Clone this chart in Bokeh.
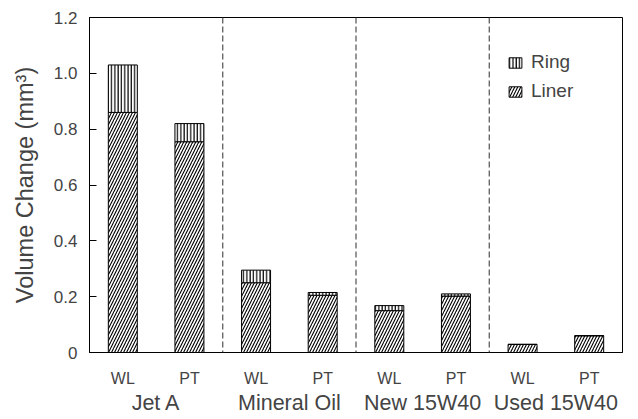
import numpy as np
from bokeh.plotting import figure
from bokeh.models import (ColumnDataSource, LinearAxis, FixedTicker, Span, Range1d,
                          Legend, LegendItem)
from bokeh.embed import file_html
from bokeh.resources import INLINE

groups = ["Jet A", "Mineral Oil", "New 15W40", "Used 15W40"]
methods = ["WL", "PT", "WL", "PT", "WL", "PT", "WL", "PT"]
liner = [0.86, 0.755, 0.25, 0.205, 0.15, 0.202, 0.029, 0.06]
ring = [0.17, 0.065, 0.045, 0.01, 0.018, 0.008, 0.0, 0.0]
y_ticks = [0, 0.2, 0.4, 0.6, 0.8, 1.0, 1.2]
y_tick_labels = ["0", "0.2", "0.4", "0.6", "0.8", "1.0", "1.2"]

FONT = "Liberation Sans"

xpos = np.arange(len(methods)) + 0.5
liner_a = np.array(liner)
total = liner_a + np.array(ring)

src = ColumnDataSource(dict(x=xpos, liner=liner_a, total=total))

p = figure(width=638, height=419, output_backend="svg", toolbar_location=None,
           x_range=Range1d(0, 8), y_range=Range1d(0, 1.2),
           min_border_left=89, min_border_right=16, min_border_top=17, min_border_bottom=67)
p.xaxis.visible = False
p.yaxis.visible = False
p.grid.visible = False
p.outline_line_color = "black"
p.outline_line_width = 1

BW = 0.435
r_liner = p.vbar(x="x", top="liner", bottom=0, width=BW, source=src,
                 fill_color="white", line_color="black", line_width=1,
                 hatch_pattern="/", hatch_color="black", hatch_scale=6, hatch_weight=1.1)
r_ring = p.vbar(x="x", top="total", bottom="liner", width=BW, source=src,
                fill_color="white", line_color="black", line_width=1,
                hatch_pattern="|", hatch_color="black", hatch_scale=3.3, hatch_weight=1.2)

for xs in [2, 4, 6]:
    p.add_layout(Span(location=xs, dimension="height", line_color="#505050",
                      line_width=1.2, line_dash="6 3"))

# y axis
yax = LinearAxis(ticker=FixedTicker(ticks=y_ticks),
                 major_label_overrides={t: l for t, l in zip(y_ticks, y_tick_labels)},
                 axis_label="Volume Change (mm³)")
yax.major_tick_in = 7
yax.major_tick_out = 0
yax.minor_tick_in = 0
yax.minor_tick_out = 0
yax.major_label_standoff = 12
yax.major_label_text_font = FONT
yax.major_label_text_font_size = "17px"
yax.axis_label_text_font = FONT
yax.axis_label_text_font_size = "23.5px"
yax.axis_label_text_font_style = "normal"
yax.axis_label_standoff = 13
yax.axis_line_color = "black"
yax.major_tick_line_color = "black"
p.add_layout(yax, "left")

# x axis with method labels
xax = LinearAxis(ticker=FixedTicker(ticks=list(xpos)),
                 major_label_overrides={float(x): m for x, m in zip(xpos, methods)})
xax.major_tick_in = 0
xax.major_tick_out = 0
xax.minor_tick_in = 0
xax.minor_tick_out = 0
xax.major_label_standoff = 17
xax.major_label_text_font = FONT
xax.major_label_text_font_size = "16px"
xax.axis_line_color = "black"
p.add_layout(xax, "below")

# group axis
gpos = [1.0, 3.0, 5.0, 7.0]
gax = LinearAxis(ticker=FixedTicker(ticks=gpos),
                 major_label_overrides={g: n for g, n in zip(gpos, groups)})
gax.major_tick_in = 0
gax.major_tick_out = 0
gax.minor_tick_in = 0
gax.minor_tick_out = 0
gax.axis_line_color = None
gax.major_label_standoff = 1
gax.major_label_text_font = FONT
gax.major_label_text_font_size = "21.5px"
p.add_layout(gax, "below")

legend = Legend(items=[LegendItem(label="Ring", renderers=[r_ring]),
                       LegendItem(label="Liner", renderers=[r_liner])],
                location=(418, 250))
legend.border_line_color = None
legend.background_fill_alpha = 0
legend.label_text_font = FONT
legend.label_text_font_size = "19px"
legend.glyph_width = 16
legend.glyph_height = 13
legend.label_standoff = 8
legend.spacing = 7
legend.padding = 2
legend.margin = 0
p.add_layout(legend, "center")

open("out.html", "w").write(file_html(p, INLINE))
